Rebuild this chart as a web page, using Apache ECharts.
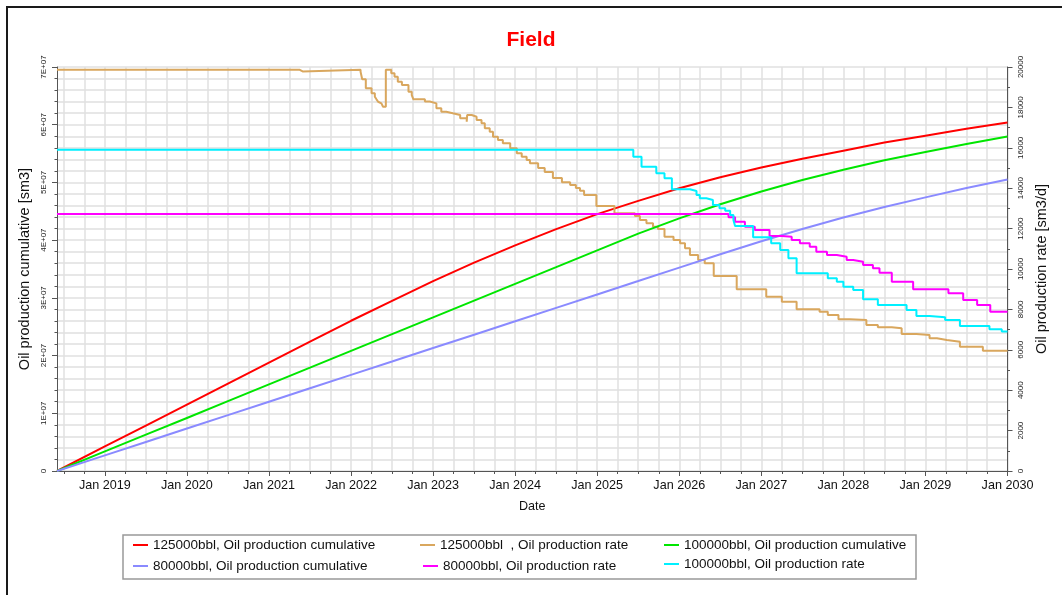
<!DOCTYPE html>
<html>
<head>
<meta charset="utf-8">
<script src="https://cdn.jsdelivr.net/npm/echarts@6/dist/echarts.min.js"></script>
<style>
html,body{margin:0;padding:0;background:#fff;}
#chart{width:1062px;height:595px;}
</style>
</head>
<body>
<div id="chart"></div>
<script>
// ---- data (x in decimal years) ----
const yearLabels = [2019, 2020, 2021, 2022, 2023, 2024, 2025, 2026, 2027, 2028, 2029, 2030];
const leftTicks = ['0', '1E+07', '2E+07', '3E+07', '4E+07', '5E+07', '6E+07', '7E+07'];

const cumYears = [2018.417, 2019.0, 2019.5, 2020.0, 2020.5, 2021.0, 2021.5, 2022.0, 2022.5, 2023.0, 2023.5, 2024.0,
  2024.5, 2025.0, 2025.5, 2026.0, 2026.5, 2027.0, 2027.5, 2028.0, 2028.5, 2029.0, 2029.5, 2030.0];
const cum125 = [0, 0.425e7, 0.788e7, 1.151e7, 1.514e7, 1.877e7, 2.240e7, 2.603e7, 2.948e7, 3.29e7, 3.61e7, 3.91e7,
  4.19e7, 4.45e7, 4.68e7, 4.90e7, 5.09e7, 5.26e7, 5.41e7, 5.55e7, 5.69e7, 5.81e7, 5.93e7, 6.04e7];
const cum100 = [0, 0.339e7, 0.629e7, 0.919e7, 1.210e7, 1.500e7, 1.790e7, 2.081e7, 2.371e7, 2.661e7, 2.952e7, 3.242e7,
  3.532e7, 3.823e7, 4.112e7, 4.377e7, 4.623e7, 4.844e7, 5.043e7, 5.220e7, 5.383e7, 5.529e7, 5.666e7, 5.795e7];
const cum80 = [0, 0.271e7, 0.503e7, 0.736e7, 0.968e7, 1.200e7, 1.433e7, 1.665e7, 1.897e7, 2.130e7, 2.362e7, 2.594e7,
  2.827e7, 3.059e7, 3.291e7, 3.524e7, 3.756e7, 3.982e7, 4.194e7, 4.391e7, 4.574e7, 4.741e7, 4.902e7, 5.052e7];

const rate125 = [
  [2018.417, 19870], [2021.37, 19780], [2021.41, 19870], [2022.116, 19766], [2022.136, 19390], [2022.18, 18944],
  [2022.25, 18696], [2022.29, 18528], [2022.31, 18400], [2022.33, 18280], [2022.35, 18200], [2022.37, 18117],
  [2022.39, 18033], [2022.424, 19870], [2022.49, 19687], [2022.53, 19520], [2022.57, 19270], [2022.62, 19107],
  [2022.70, 18776], [2022.74, 18612], [2022.76, 18400], [2022.90, 18290], [2022.96, 18200], [2023.04, 17954],
  [2023.10, 17785], [2023.16, 17706], [2023.24, 17622], [2023.33, 17459], [2023.41, 17290], [2023.415, 17622],
  [2023.47, 17537], [2023.53, 17375], [2023.59, 17210], [2023.63, 16963], [2023.69, 16795], [2023.73, 16548],
  [2023.79, 16385], [2023.85, 16220], [2023.94, 15974], [2024.02, 15726], [2024.08, 15558], [2024.14, 15395],
  [2024.18, 15230], [2024.28, 15000], [2024.36, 14800], [2024.46, 14500], [2024.57, 14300], [2024.67, 14160],
  [2024.74, 14010], [2024.79, 13875], [2024.84, 13660], [2024.99, 13118], [2025.21, 12756], [2025.46, 12622],
  [2025.52, 12425], [2025.60, 12261], [2025.68, 12093], [2025.74, 11979], [2025.82, 11598], [2025.93, 11434],
  [2026.01, 11270], [2026.07, 11024], [2026.13, 10692], [2026.23, 10445], [2026.31, 10280], [2026.42, 9650],
  [2026.70, 8994], [2027.06, 8628], [2027.25, 8380], [2027.43, 8004], [2027.71, 7885], [2027.81, 7722],
  [2027.94, 7509], [2028.08, 7475], [2028.28, 7227], [2028.42, 7113], [2028.59, 7064], [2028.71, 6782],
  [2028.89, 6732], [2029.05, 6569], [2029.14, 6485], [2029.26, 6400], [2029.42, 6153], [2029.70, 5955],
  [2030.0, 5955]
];
const rate100 = [
  [2018.417, 15899], [2025.40, 15899], [2025.44, 15558], [2025.54, 15063], [2025.72, 14736], [2025.82, 14489],
  [2025.91, 13944], [2026.13, 13860], [2026.21, 13662], [2026.25, 13499], [2026.33, 13415], [2026.41, 13167],
  [2026.49, 13004], [2026.56, 12885], [2026.62, 12672], [2026.66, 12425], [2026.68, 12128], [2026.90, 11568],
  [2027.12, 11271], [2027.23, 10940], [2027.33, 10529], [2027.43, 9786], [2027.81, 9539], [2027.92, 9370],
  [2028.00, 9123], [2028.12, 8960], [2028.24, 8499], [2028.42, 8217], [2028.77, 7970], [2028.89, 7673],
  [2029.05, 7608], [2029.24, 7475], [2029.42, 7178], [2029.78, 7014], [2029.93, 6900], [2030.0, 6900]
];
const rate80 = [
  [2018.417, 12719], [2026.60, 12558], [2026.68, 12340], [2026.80, 12093], [2026.92, 11930], [2027.10, 11633],
  [2027.25, 11598], [2027.37, 11435], [2027.47, 11271], [2027.59, 11103], [2027.67, 10855], [2027.80, 10692],
  [2027.92, 10608], [2028.04, 10445], [2028.12, 10360], [2028.24, 10197], [2028.36, 10034], [2028.44, 9816],
  [2028.59, 9370], [2028.85, 8994], [2029.28, 8796], [2029.46, 8465], [2029.63, 8217], [2029.79, 7886],
  [2030.0, 7886]
];

const seriesNames = [
  '125000bbl, Oil production cumulative',
  '125000bbl  , Oil production rate',
  '100000bbl, Oil production cumulative',
  '80000bbl, Oil production cumulative',
  '80000bbl, Oil production rate',
  '100000bbl, Oil production rate'
];
const colors = ['#ff0000', '#d9a75e', '#00e600', '#8a8aff', '#ff00ff', '#00f0ff'];

// ---- build ----
const FONT = '"Liberation Sans", Arial, sans-serif';
const xMin = 2018 + 5 / 12, xMax = 2030;
const quarterTicks = [];
for (let q = 2018.5; q <= 2030.0001; q += 0.25) quarterTicks.push(Math.round(q * 100) / 100);

const zip = (xs, ys) => xs.map((x, i) => [x, ys[i]]);
const gridLine = { show: true, lineStyle: { color: '#e0e0e0', width: 1.5 } };

function lineSeries(name, data, yIdx, color, step) {
  return {
    name, type: 'line', data, xAxisIndex: 0, yAxisIndex: yIdx,
    step: step ? 'end' : false, showSymbol: false, symbol: 'none',
    lineStyle: { color, width: 2 }, itemStyle: { color }, clip: true, animation: false
  };
}

const legendPos = [
  [133, 538], [420, 538], [664, 538],
  [133, 559], [423, 559], [664, 557]
];

const option = {
  backgroundColor: '#fff',
  animation: false,
  title: {
    text: 'Field', left: 'center', top: 25,
    textStyle: { color: '#ff0000', fontSize: 21, fontWeight: 'bold', fontFamily: FONT }
  },
  grid: { left: 57, right: 54.5, top: 67, bottom: 124, containLabel: false, outerBoundsMode: 'none' },
  xAxis: [
    {
      type: 'value', min: xMin, max: xMax, position: 'bottom',
      name: 'Date', nameLocation: 'middle', nameGap: 29,
      nameTextStyle: { fontSize: 12.6, color: '#111', fontFamily: FONT },
      axisLine: { show: true, lineStyle: { color: '#555', width: 1 } },
      axisTick: { show: true, customValues: yearLabels, length: 5, lineStyle: { color: '#555' } },
      axisLabel: {
        customValues: yearLabels, formatter: v => 'Jan ' + Math.round(v),
        fontSize: 12.6, color: '#111', fontFamily: FONT, margin: 8
      },
      splitLine: { show: false }
    },
    {
      type: 'value', min: xMin, max: xMax, position: 'bottom',
      axisLine: { show: false },
      axisTick: { show: true, customValues: quarterTicks, length: 3, lineStyle: { color: '#555' } },
      axisLabel: { show: false },
      splitLine: gridLine
    }
  ],
  yAxis: [
    {
      type: 'value', min: 0, max: 7e7, interval: 1e7, position: 'left',
      name: 'Oil production cumulative [sm3]', nameLocation: 'middle', nameGap: 21,
      nameTextStyle: { fontSize: 14.5, color: '#111', fontFamily: FONT },
      axisLine: { show: true, lineStyle: { color: '#555', width: 1 } },
      axisTick: { show: true, length: 5, lineStyle: { color: '#555' } },
      minorTick: { show: true, splitNumber: 5, length: 2.5, lineStyle: { color: '#555' } },
      axisLabel: {
        rotate: 90, fontSize: 8, color: '#222', fontFamily: FONT, margin: 9,
        formatter: v => leftTicks[Math.round(v / 1e7)]
      },
      splitLine: gridLine,
      minorSplitLine: gridLine
    },
    {
      type: 'value', min: 0, max: 20000, interval: 2000, position: 'right',
      name: 'Oil production rate [sm3/d]', nameLocation: 'middle', nameGap: 27,
      nameTextStyle: { fontSize: 14.5, color: '#111', fontFamily: FONT },
      axisLine: { show: true, lineStyle: { color: '#555', width: 1 } },
      axisTick: { show: true, length: 5, lineStyle: { color: '#555' } },
      minorTick: { show: true, splitNumber: 2, length: 2.5, lineStyle: { color: '#555' } },
      axisLabel: {
        rotate: 90, fontSize: 8, color: '#222', fontFamily: FONT, margin: 9,
        formatter: v => String(Math.round(v))
      },
      splitLine: { show: false }
    }
  ],
  legend: seriesNames.map((nm, i) => ({
    data: [nm], left: legendPos[i][0], top: legendPos[i][1],
    padding: 0, itemGap: 0, icon: 'rect', itemWidth: 15, itemHeight: 2,
    selectedMode: false,
    textStyle: { fontSize: 13.5, color: '#111', fontFamily: FONT }
  })),
  graphic: [
    { type: 'rect', shape: { x: 7, y: 7, width: 1100, height: 700 },
      style: { fill: 'none', stroke: '#1a1a1a', lineWidth: 2 }, silent: true, z: 100 },
    { type: 'rect', shape: { x: 123, y: 535, width: 793, height: 44 },
      style: { fill: 'none', stroke: '#999', lineWidth: 1.5 }, silent: true, z: 100 }
  ],
  series: [
    lineSeries(seriesNames[0], zip(cumYears, cum125), 0, colors[0], false),
    lineSeries(seriesNames[1], rate125, 1, colors[1], true),
    lineSeries(seriesNames[2], zip(cumYears, cum100), 0, colors[2], false),
    lineSeries(seriesNames[3], zip(cumYears, cum80), 0, colors[3], false),
    lineSeries(seriesNames[4], rate80, 1, colors[4], true),
    lineSeries(seriesNames[5], rate100, 1, colors[5], true)
  ]
};

const chart = echarts.init(document.getElementById('chart'), null, { renderer: 'canvas' });
chart.setOption(option);
</script>
</body>
</html>
